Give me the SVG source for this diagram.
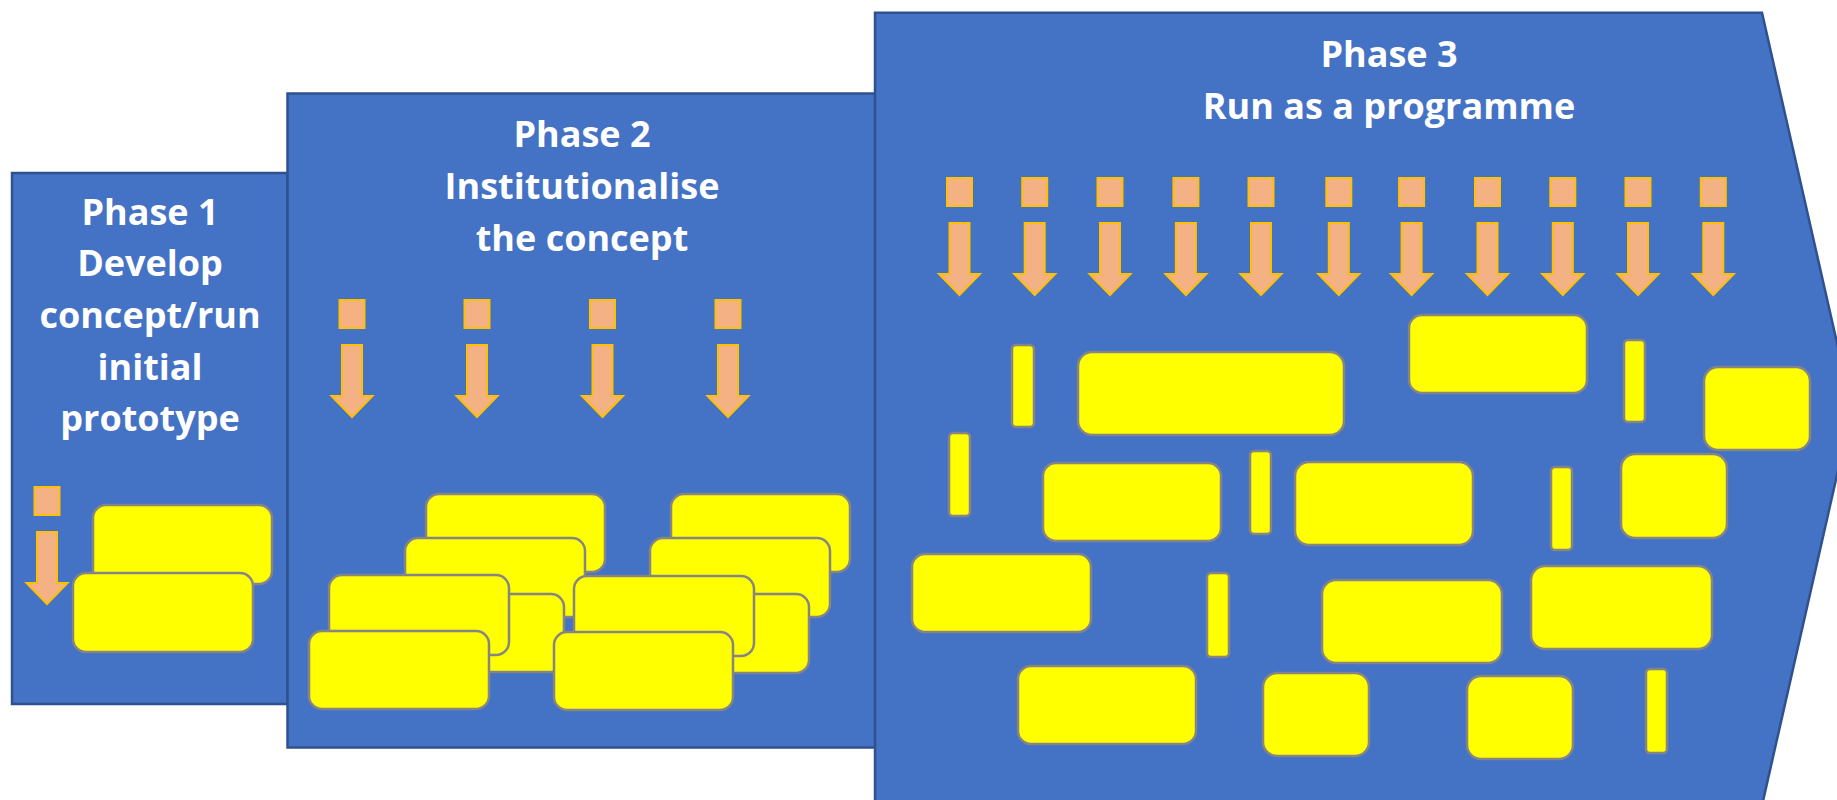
<svg xmlns="http://www.w3.org/2000/svg" xmlns:xlink="http://www.w3.org/1999/xlink" width="1837" height="800" viewBox="0 0 1837 800">
<style>
.phase{fill:#4472C4;stroke:#2F528F;stroke-width:2.5}
.title{font-family:"Open Sans","Liberation Sans",sans-serif;font-weight:bold;font-size:36px;fill:#FFFFFF;text-anchor:middle}
.box{fill:#FFFF00;stroke:#858585;stroke-width:2.5}
.arr{fill:#F4B183;stroke:#FFC000;stroke-width:2}
</style>
<defs>
<g id="arrow">
<rect class="arr" x="-12.5" y="0" width="25" height="28"/>
<path class="arr" d="M-10 45H10V96H20.5L0 117L-20.5 96H-10Z"/>
</g>
</defs>
<rect width="1837" height="800" fill="#FFFFFF"/>

<g id="phase1">
<rect class="phase" x="12" y="173" width="275.5" height="531"/>
<text class="title"><tspan x="150" y="225">Phase 1</tspan><tspan x="150" y="276">Develop</tspan><tspan x="150" y="328">concept/run</tspan><tspan x="150" y="380">initial</tspan><tspan x="150" y="431">prototype</tspan></text>
<use xlink:href="#arrow" transform="translate(47,487)"/>
<rect class="box" x="93" y="505" width="179" height="79" rx="13"/>
<rect class="box" x="73" y="573" width="180" height="79" rx="13"/>
</g>

<g id="phase2">
<rect class="phase" x="287.5" y="93.5" width="588" height="654"/>
<text class="title"><tspan x="582" y="147">Phase 2</tspan><tspan x="582" y="199">Institutionalise</tspan><tspan x="582" y="251">the concept</tspan></text>
<use xlink:href="#arrow" transform="translate(352,300)"/>
<use xlink:href="#arrow" transform="translate(477,300)"/>
<use xlink:href="#arrow" transform="translate(602.5,300)"/>
<use xlink:href="#arrow" transform="translate(728,300)"/>
<rect class="box" x="426" y="494" width="179" height="78" rx="13"/>
<rect class="box" x="405" y="538" width="180" height="79" rx="13"/>
<rect class="box" x="384" y="594" width="180" height="78" rx="13"/>
<rect class="box" x="329" y="575" width="180" height="80" rx="13"/>
<rect class="box" x="309" y="631" width="180" height="78" rx="13"/>
<rect class="box" x="671" y="494" width="179" height="78" rx="13"/>
<rect class="box" x="650" y="538" width="180" height="79" rx="13"/>
<rect class="box" x="629" y="594" width="180" height="79" rx="13"/>
<rect class="box" x="574" y="576" width="180" height="80" rx="13"/>
<rect class="box" x="554" y="632" width="179" height="78" rx="13"/>
</g>

<g id="phase3">
<path class="phase" d="M875 12.7H1762L1852 409L1762 805.5H875Z"/>
<text class="title"><tspan x="1389" y="67">Phase 3</tspan><tspan x="1389" y="119">Run as a programme</tspan></text>
<use xlink:href="#arrow" transform="translate(959.5,178)"/>
<use xlink:href="#arrow" transform="translate(1034.7,178)"/>
<use xlink:href="#arrow" transform="translate(1110,178)"/>
<use xlink:href="#arrow" transform="translate(1185.9,178)"/>
<use xlink:href="#arrow" transform="translate(1261,178)"/>
<use xlink:href="#arrow" transform="translate(1338.8,178)"/>
<use xlink:href="#arrow" transform="translate(1411.6,178)"/>
<use xlink:href="#arrow" transform="translate(1487.5,178)"/>
<use xlink:href="#arrow" transform="translate(1562.8,178)"/>
<use xlink:href="#arrow" transform="translate(1638,178)"/>
<use xlink:href="#arrow" transform="translate(1713.3,178)"/>
<rect class="box" x="1012" y="345" width="22" height="82" rx="4"/>
<rect class="box" x="1078" y="352" width="266" height="83" rx="14"/>
<rect class="box" x="1409" y="315" width="178" height="78" rx="13"/>
<rect class="box" x="1624" y="340" width="21" height="82" rx="4"/>
<rect class="box" x="1704" y="367" width="106" height="83" rx="14"/>
<rect class="box" x="949" y="433" width="21" height="83" rx="4"/>
<rect class="box" x="1043" y="463" width="178" height="78" rx="13"/>
<rect class="box" x="1250" y="451" width="21" height="83" rx="4"/>
<rect class="box" x="1295" y="462" width="178" height="83" rx="14"/>
<rect class="box" x="1551" y="467" width="21" height="83" rx="4"/>
<rect class="box" x="1621" y="454" width="106" height="84" rx="14"/>
<rect class="box" x="912" y="554" width="179" height="78" rx="13"/>
<rect class="box" x="1207" y="573" width="22" height="84" rx="4"/>
<rect class="box" x="1322" y="580" width="180" height="83" rx="14"/>
<rect class="box" x="1531" y="566" width="181" height="83" rx="14"/>
<rect class="box" x="1018" y="666" width="178" height="78" rx="13"/>
<rect class="box" x="1263" y="673" width="106" height="83" rx="14"/>
<rect class="box" x="1467" y="676" width="106" height="83" rx="14"/>
<rect class="box" x="1646" y="669" width="21" height="84" rx="4"/>
</g>

<g id="connectors"></g>
</svg>
